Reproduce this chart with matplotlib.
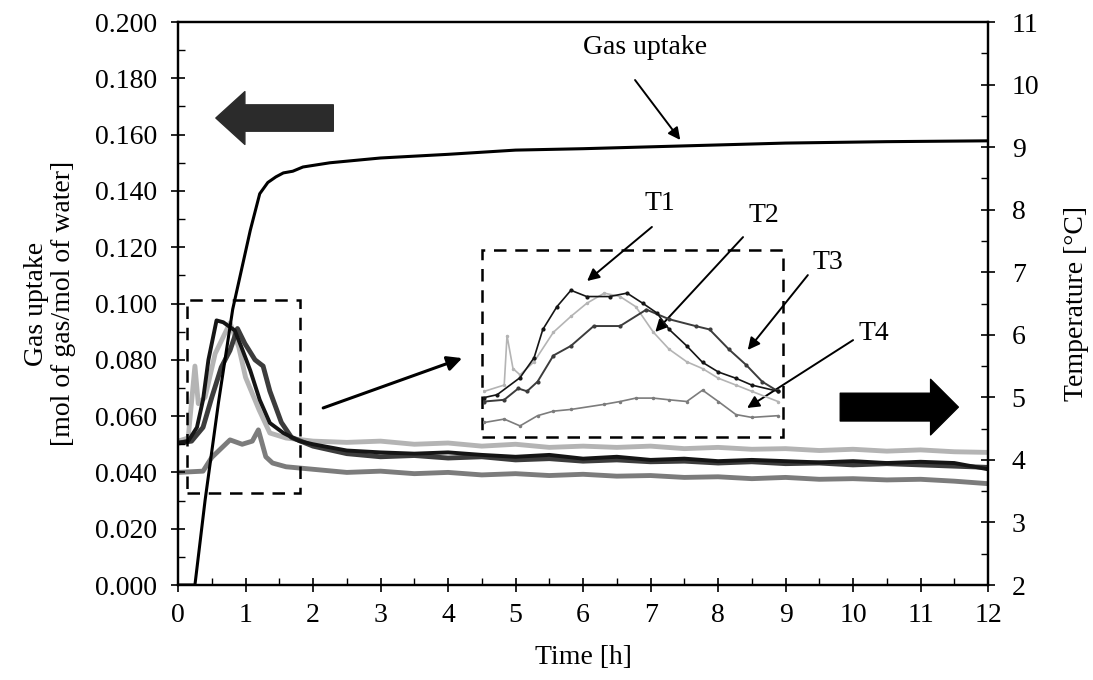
import matplotlib
matplotlib.use('Agg')
import matplotlib.pyplot as plt
from matplotlib.patches import Rectangle
from matplotlib.ticker import MultipleLocator, FormatStrFormatter

plt.rcParams['font.family'] = ['Liberation Serif', 'DejaVu Serif']

# gas uptake [mol of gas/mol of water] vs time [h]
t_gas = [0, 0.25, 0.4, 0.6, 0.81, 1.07, 1.21, 1.33, 1.45, 1.56, 1.7, 1.85, 2.25, 3.0, 4.0, 5.0, 6.0, 7.5, 9.0, 10.5, 12]
gas = [0, 0, 0.030, 0.065, 0.098, 0.126, 0.139, 0.143, 0.145, 0.1464, 0.147, 0.1485, 0.150, 0.1517, 0.153, 0.1545, 0.155, 0.156, 0.157, 0.1575, 0.1578]

# temperatures [°C], first 2 h read in detail, then every 0.5 h
t_late = [2.5, 3, 3.5, 4, 4.5, 5, 5.5, 6, 6.5, 7, 7.5, 8, 8.5, 9, 9.5, 10, 10.5, 11, 11.5, 12]

t_T1 = [0, 0.15, 0.28, 0.37, 0.45, 0.57, 0.67, 0.84, 0.94, 1.07, 1.21, 1.36, 1.56, 1.8, 2.0] + t_late
T1 = [4.27, 4.3, 4.52, 4.96, 5.6, 6.23, 6.2, 6.07, 5.8, 5.43, 4.96, 4.59, 4.43, 4.3, 4.25,
      4.15, 4.12, 4.1, 4.12, 4.08, 4.05, 4.08, 4.02, 4.05, 4.0, 4.02, 3.98, 4.0, 3.98, 3.96, 3.98, 3.95, 3.97, 3.95, 3.85]

t_T2 = [0, 0.15, 0.25, 0.3, 0.4, 0.55, 0.77, 0.9, 1.0, 1.2, 1.36, 1.6, 2.0] + t_late
T2 = [4.3, 4.35, 5.5, 4.9, 5.0, 5.7, 6.19, 5.8, 5.32, 4.8, 4.43, 4.35, 4.3,
      4.28, 4.3, 4.25, 4.27, 4.22, 4.25, 4.2, 4.22, 4.2, 4.22, 4.18, 4.2, 4.17, 4.18, 4.15, 4.17, 4.14, 4.16, 4.13, 4.12]

t_T3 = [0, 0.2, 0.37, 0.5, 0.64, 0.77, 0.88, 0.99, 1.14, 1.26, 1.36, 1.53, 1.68, 2.0] + t_late
T3 = [4.27, 4.3, 4.52, 5.0, 5.48, 5.75, 6.1, 5.86, 5.6, 5.5, 5.1, 4.6, 4.36, 4.22,
      4.1, 4.05, 4.07, 4.03, 4.05, 4.0, 4.02, 3.98, 4.0, 3.97, 3.98, 3.95, 3.97, 3.94, 3.95, 3.92, 3.94, 3.92, 3.9, 3.88]

t_T4 = [0, 0.37, 0.5, 0.77, 0.95, 1.1, 1.19, 1.3, 1.4, 1.6, 2.0] + t_late
T4 = [3.8, 3.82, 4.04, 4.32, 4.25, 4.3, 4.48, 4.05, 3.95, 3.89, 3.85,
      3.8, 3.82, 3.78, 3.8, 3.76, 3.78, 3.75, 3.77, 3.74, 3.75, 3.72, 3.73, 3.7, 3.72, 3.69, 3.7, 3.68, 3.69, 3.66, 3.62]

# magnified view (inset)
ti_T1 = [0.107, 0.18, 0.31, 0.39, 0.44, 0.52, 0.60, 0.69, 0.82, 0.92, 1.01, 1.09, 1.16, 1.26, 1.35, 1.44, 1.54, 1.63, 1.78]
Ti_T1 = [4.25, 4.3, 4.60, 4.95, 5.45, 5.85, 6.14, 6.03, 6.03, 6.09, 5.91, 5.74, 5.45, 5.16, 4.87, 4.70, 4.59, 4.47, 4.36]
ti_T2 = [0.107, 0.22, 0.236, 0.27, 0.31, 0.39, 0.50, 0.60, 0.69, 0.79, 0.88, 0.97, 1.07, 1.16, 1.26, 1.35, 1.44, 1.54, 1.63, 1.78]
Ti_T2 = [4.36, 4.47, 5.34, 4.76, 4.65, 4.88, 5.4, 5.68, 5.91, 6.09, 6.03, 5.85, 5.4, 5.1, 4.88, 4.76, 4.59, 4.47, 4.36, 4.18]
ti_T3 = [0.107, 0.22, 0.30, 0.35, 0.41, 0.50, 0.60, 0.73, 0.88, 1.03, 1.16, 1.31, 1.39, 1.50, 1.60, 1.69, 1.78]
Ti_T3 = [4.18, 4.21, 4.41, 4.36, 4.53, 4.99, 5.16, 5.51, 5.51, 5.80, 5.63, 5.51, 5.45, 5.1, 4.82, 4.53, 4.36]
ti_T4 = [0.107, 0.22, 0.31, 0.41, 0.50, 0.60, 0.79, 0.88, 0.97, 1.07, 1.16, 1.26, 1.35, 1.44, 1.54, 1.63, 1.78]
Ti_T4 = [3.81, 3.87, 3.75, 3.93, 4.01, 4.04, 4.13, 4.18, 4.24, 4.24, 4.21, 4.18, 4.38, 4.18, 3.95, 3.90, 3.93]

col = {'T1': '#151515', 'T2': '#b4b4b4', 'T3': '#3c3c3c', 'T4': '#7c7c7c'}
fs = 20

fig = plt.figure(figsize=(10.93, 6.8), dpi=100)
ax = fig.add_axes([0.1629, 0.1397, 0.7411, 0.8279])
ax2 = ax.twinx()
ax.set_zorder(ax2.get_zorder() + 1)
ax.patch.set_visible(False)

ax2.plot(t_T2, T2, color=col['T2'], lw=3.5)
ax2.plot(t_T4, T4, color=col['T4'], lw=3.5)
ax2.plot(t_T3, T3, color=col['T3'], lw=3.5)
ax2.plot(t_T1, T1, color=col['T1'], lw=2.8)

ax.plot(t_gas, gas, color='black', lw=2.2)

ax.set_xlim(0, 12)
ax.set_ylim(0, 0.2)
ax2.set_ylim(2, 11)
ax.xaxis.set_major_locator(MultipleLocator(1))
ax.xaxis.set_minor_locator(MultipleLocator(0.5))
ax.yaxis.set_major_locator(MultipleLocator(0.02))
ax.yaxis.set_minor_locator(MultipleLocator(0.01))
ax.yaxis.set_major_formatter(FormatStrFormatter('%.3f'))
ax2.yaxis.set_major_locator(MultipleLocator(1))
ax2.yaxis.set_minor_locator(MultipleLocator(0.5))

for a in (ax, ax2):
    a.tick_params(which='major', direction='inout', length=10, width=1.2, labelsize=fs)
    a.tick_params(which='minor', direction='in', length=5, width=1)
    for s in a.spines.values():
        s.set_linewidth(1.6)
ax.tick_params(axis='x', pad=8)
ax.tick_params(axis='y', pad=10)
ax2.tick_params(axis='y', pad=12)

ax.set_xlabel('Time [h]', fontsize=fs, labelpad=12)
ax.set_ylabel('Gas uptake\n[mol of gas/mol of water]', fontsize=fs, labelpad=14, linespacing=1.1)
ax2.set_ylabel('Temperature [°C]', fontsize=fs, labelpad=18)

# dashed boxes
ax.add_patch(Rectangle((0.13, 0.0327), 1.68, 0.0685, fill=False, ls=(0, (5, 3.5)), lw=1.8, color='black'))
ax.add_patch(Rectangle((4.50, 0.0526), 4.46, 0.0664, fill=False, ls=(0, (5, 3.5)), lw=1.8, color='black'))

# inset with the magnified curves
ins = ax.inset_axes([4.52, 0.0535, 4.42, 0.0645], transform=ax.transData)
ins.plot(ti_T4, Ti_T4, color=col['T4'], lw=1.2, marker='.', ms=3)
ins.plot(ti_T2, Ti_T2, color=col['T2'], lw=1.2, marker='.', ms=3)
ins.plot(ti_T3, Ti_T3, color=col['T3'], lw=1.4, marker='.', ms=4)
ins.plot(ti_T1, Ti_T1, color=col['T1'], lw=1.2, marker='.', ms=4)
ins.set_xlim(0.1, 1.8)
ins.set_ylim(3.6, 6.8)
ins.axis('off')

# labels and arrows
arr = dict(arrowstyle='-|>', color='black', lw=1.4, mutation_scale=18, shrinkA=0, shrinkB=0)
ax.text(6.92, 0.1908, 'Gas uptake', fontsize=fs, ha='center', va='center')
ax.annotate('', xy=(7.44, 0.1581), xytext=(6.77, 0.1794), arrowprops=arr)
for name, tip, start, txt in [('T1', (6.06, 0.1080), (7.02, 0.1272), (7.14, 0.1357)),
                              ('T2', (7.07, 0.0899), (8.37, 0.1236), (8.68, 0.1314)),
                              ('T3', (8.44, 0.0835), (9.33, 0.1101), (9.63, 0.1147)),
                              ('T4', (8.43, 0.0629), (10.0, 0.0870), (10.30, 0.0892))]:
    ax.annotate('', xy=tip, xytext=start, arrowprops=arr)
    ax.text(txt[0], txt[1], name, fontsize=fs, ha='center', va='center')

ax.annotate('', xy=(4.21, 0.0806), xytext=(2.15, 0.0629),
            arrowprops=dict(arrowstyle='-|>', color='black', lw=2.2, mutation_scale=22, shrinkA=0, shrinkB=0))

# block arrows pointing to each axis
ax.annotate('', xy=(0.56, 0.1659), xytext=(2.30, 0.1659),
            arrowprops=dict(arrowstyle='simple,head_length=0.55,head_width=1.0,tail_width=0.5',
                            color='#2b2b2b', mutation_scale=38, shrinkA=0, shrinkB=0))
ax.annotate('', xy=(11.56, 0.0632), xytext=(9.81, 0.0632),
            arrowprops=dict(arrowstyle='simple,head_length=0.5,head_width=1.0,tail_width=0.5',
                            color='black', mutation_scale=40, shrinkA=0, shrinkB=0))

fig.savefig('out.png', dpi=100)
